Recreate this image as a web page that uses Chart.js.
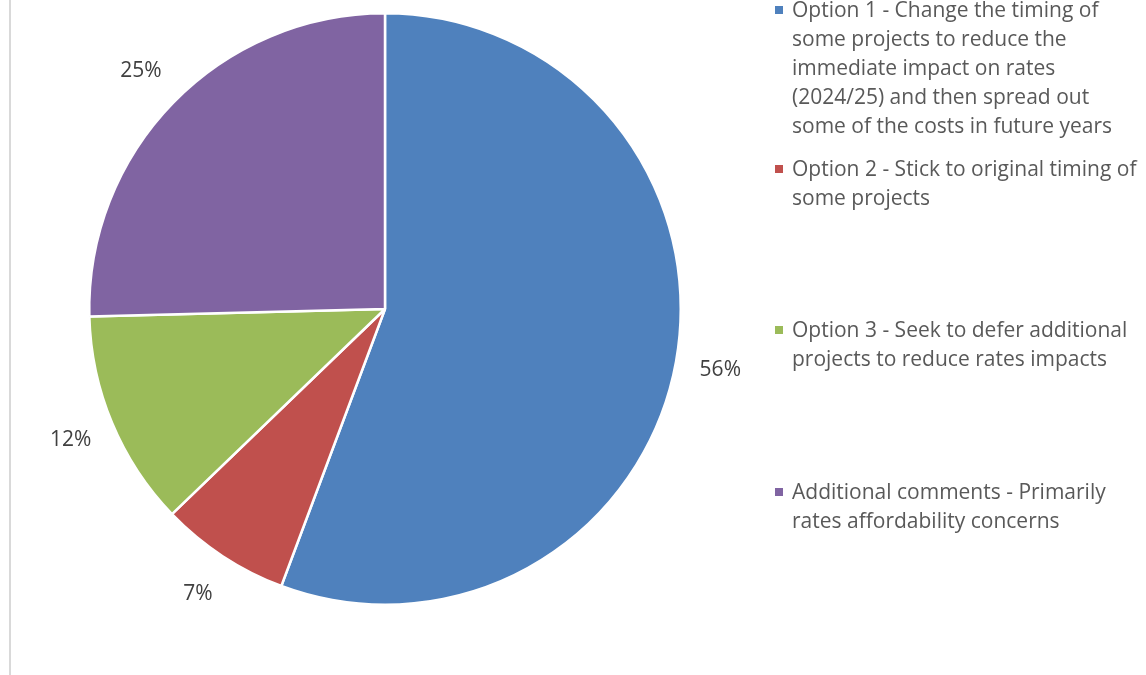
<!DOCTYPE html>
<html>
<head>
<meta charset="utf-8">
<script src="https://cdn.jsdelivr.net/npm/chart.js@4.4.1/dist/chart.umd.min.js"></script>
<style>
  html, body { margin: 0; padding: 0; background: #fff; }
  #wrap { position: relative; width: 1146px; height: 675px; overflow: hidden; }
  #edge { position: absolute; left: 9px; top: 0; width: 2px; height: 675px; background: #d9d9d9; }
  #legend { position: absolute; left: 775px; top: 0; width: 371px; font-family: "Open Sans", sans-serif; font-size: 21px; color: #595959; line-height: 29px; }
  .item { position: absolute; left: 0; white-space: nowrap; }
  .swatch { position: absolute; left: 0; top: 11px; width: 8px; height: 8px; }
  .text { position: absolute; left: 17px; top: 0; }
</style>
</head>
<body>
<div id="wrap">
  <div id="edge"></div>
  <canvas id="pie" width="1146" height="675"></canvas>
  <div id="legend"></div>
</div>
<script>
// ── data ──────────────────────────────────────
const labels = [
  ['Option 1 - Change the timing of', 'some projects to reduce the', 'immediate impact on rates', '(2024/25) and then spread out', 'some of the costs in future years'],
  ['Option 2 - Stick to original timing of', 'some projects'],
  ['Option 3 - Seek to defer additional', 'projects to reduce rates impacts'],
  ['Additional comments - Primarily', 'rates affordability concerns']
];
const shares = [55.7, 7.1, 11.8, 25.4];
const colors = ['#4f81bd', '#c0504d', '#9bbb59', '#8064a2'];
const legendTops = [-5, 154, 315, 477];

// ── percent labels just outside each slice ─────
const outsideLabels = {
  id: 'outsideLabels',
  afterDatasetsDraw(chart) {
    const ctx = chart.ctx;
    const meta = chart.getDatasetMeta(0);
    const total = shares.reduce((a, b) => a + b, 0);
    ctx.save();
    ctx.font = '21px "Open Sans", sans-serif';
    ctx.fillStyle = '#404040';
    ctx.textAlign = 'center';
    ctx.textBaseline = 'middle';
    meta.data.forEach((arc, i) => {
      const mid = (arc.startAngle + arc.endAngle) / 2;
      const r = arc.outerRadius + 45;
      const pct = Math.round(shares[i] / total * 100);
      ctx.fillText(pct + '%', arc.x + Math.cos(mid) * r, arc.y + Math.sin(mid) * r);
    });
    ctx.restore();
  }
};

new Chart(document.getElementById('pie'), {
  type: 'pie',
  data: {
    labels: labels,
    datasets: [{
      data: shares,
      backgroundColor: colors,
      borderColor: '#fff',
      borderWidth: 2.5
    }]
  },
  options: {
    responsive: false,
    animation: false,
    layout: { padding: { left: 88, right: 464, top: 12, bottom: 69 } },
    plugins: {
      legend: { display: false },
      tooltip: { enabled: false }
    }
  },
  plugins: [outsideLabels]
});

// ── legend ──────────────────────────────────────
const legendEl = document.getElementById('legend');
legendEl.innerHTML = labels.map((lines, i) => `
  <div class="item" style="top:${legendTops[i]}px">
    <span class="swatch" style="background:${colors[i]}"></span>
    <span class="text">${lines.join('<br>')}</span>
  </div>
`).join('');
</script>
</body>
</html>
